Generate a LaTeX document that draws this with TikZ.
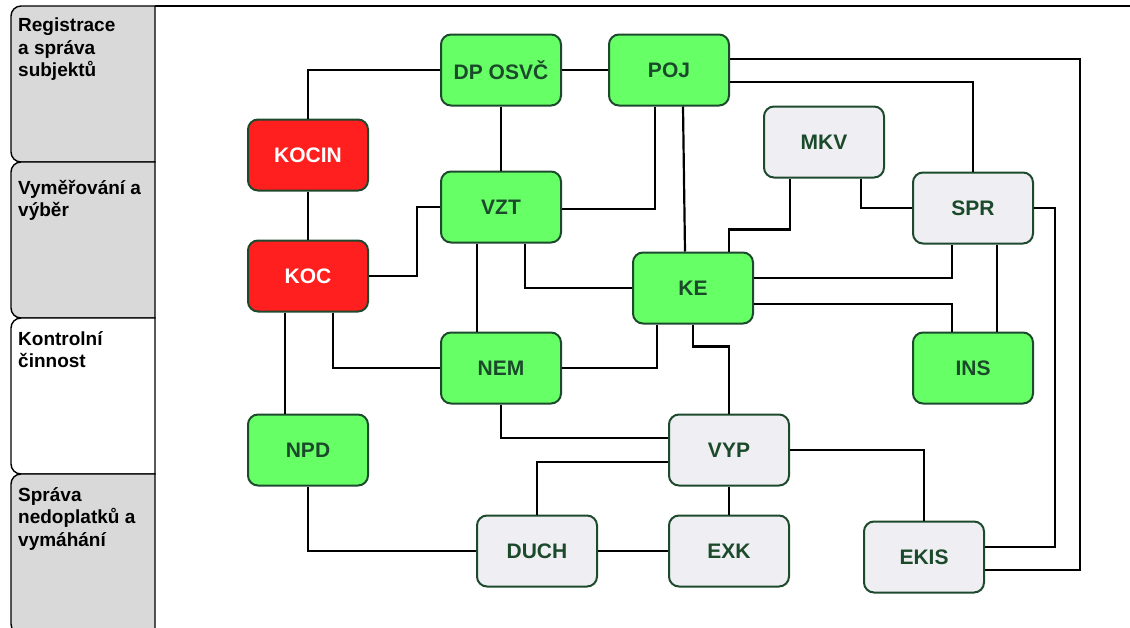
\documentclass[tikz,border=0pt]{standalone}
\usepackage{fontspec}
\setmainfont{Liberation Sans}
\usetikzlibrary{calc}
\definecolor{boxgreen}{HTML}{66FF66}
\definecolor{boxred}{HTML}{FF1F1F}
\definecolor{boxgray}{HTML}{EFEEF3}
\definecolor{lanegray}{HTML}{D9D9D9}
\definecolor{edgegreen}{HTML}{1D4A2D}
\definecolor{textgreen}{HTML}{1B4A2B}
\tikzset{
  sysbox/.style={draw=edgegreen, line width=2pt, rounded corners=10pt,
    minimum width=120pt, minimum height=71pt, inner sep=0pt,
    font=\bfseries\fontsize{21}{24}\selectfont, text=textgreen},
  greenbox/.style={sysbox, fill=boxgreen},
  redbox/.style={sysbox, fill=boxred, text=white},
  graybox/.style={sysbox, fill=boxgray},
  link/.style={line width=2.2pt, black},
  lane/.style={draw=black, line width=1.4pt},
  lanetext/.style={anchor=north west, inner sep=0pt, align=left,
    font=\bfseries\fontsize{19}{22.5}\selectfont, text=black}
}
\begin{document}
\begin{tikzpicture}[x=1pt, y=-1pt]
\useasboundingbox (0,0) rectangle (1130,627);
\clip (0,0) rectangle (1130,627);
\fill[white] (0,0) rectangle (1130,627);

% swimlane tabs on the left
\filldraw[lane, fill=lanegray] (155,6) [rounded corners=10pt] -- (11,6) -- (11,162) [sharp corners] -- (155,162) -- cycle;
\filldraw[lane, fill=lanegray] (155,162) [rounded corners=10pt] -- (11,162) -- (11,318) [sharp corners] -- (155,318) -- cycle;
\filldraw[lane, fill=white] (155,318) [rounded corners=10pt] -- (11,318) -- (11,474) [sharp corners] -- (155,474) -- cycle;
\filldraw[lane, fill=lanegray] (155,474) [rounded corners=10pt] -- (11,474) -- (11,634) [sharp corners] -- (155,634) -- cycle;
\draw[lane] (155,6) -- (1130,6);

\node[lanetext] (l1) at (18,18) {Registrace\\a správa\\subjektů};
\node[lanetext] (l2) at (18,180) {Vyměřování a\\výběr};
\node[lanetext] (l3) at (18,331) {Kontrolní\\činnost};
\node[lanetext] (l4) at (18,487) {Správa\\nedoplatků a\\vymáhání};

% systems
\node[greenbox] (DPOSVC) at (501,70) {DP OSVČ};
\node[greenbox] (POJ) at (669,70) {POJ};
\node[redbox] (KOCIN) at (308,155) {KOCIN};
\node[redbox] (KOC) at (308,276) {KOC};
\node[greenbox] (VZT) at (501,207) {VZT};
\node[graybox] (MKV) at (824,142) {MKV};
\node[graybox] (SPR) at (973,208) {SPR};
\node[greenbox] (KE) at (693,288) {KE};
\node[greenbox] (NEM) at (501,368) {NEM};
\node[greenbox] (INS) at (973,368) {INS};
\node[greenbox] (NPD) at (308,450) {NPD};
\node[graybox] (VYP) at (729,450) {VYP};
\node[graybox] (DUCH) at (537,551) {DUCH};
\node[graybox] (EXK) at (729,551) {EXK};
\node[graybox] (EKIS) at (924,557) {EKIS};

% links
\draw[link] (KOCIN.north) |- (DPOSVC.west);
\draw[link] (DPOSVC.east) -- (POJ.west);
\draw[link] (KOCIN.south) -- (KOC.north);
\draw[link] (DPOSVC.south) -- (VZT.north);
\draw[link] (KOC.east) -- ++(48,0) |- (VZT.west);
\draw[link] ([xshift=-14pt]POJ.south) |- ([yshift=-2pt]VZT.east);
\draw[link] ([xshift=14pt]POJ.south) -- ([xshift=-8pt]KE.north);
\draw[link] ([yshift=11pt]POJ.east) -| (1080,300) |- ([yshift=-13pt]EKIS.east);
\draw[link] ([yshift=-12pt]POJ.east) -| (SPR.north);
\draw[link] (SPR.east) -| (1055,300) |- ([yshift=10pt]EKIS.east);
\draw[link] ([xshift=-34pt]MKV.south) -- ++(0,51) -| ([xshift=36pt]KE.north);
\draw[link] ([xshift=37pt]MKV.south) |- (SPR.west);
\draw[link] ([yshift=10pt]KE.east) -| ([xshift=-21pt]SPR.south);
\draw[link] ([yshift=-16pt]KE.east) -| ([xshift=-21pt]INS.north);
\draw[link] ([xshift=24pt]SPR.south) -- ([xshift=24pt]INS.north);
\draw[link] ([xshift=-24pt]VZT.south) -- ([xshift=-24pt]NEM.north);
\draw[link] ([xshift=24pt]VZT.south) |- (KE.west);
\draw[link] ([xshift=-23pt]KOC.south) -- ([xshift=-23pt]NPD.north);
\draw[link] ([xshift=25pt]KOC.south) |- (NEM.west);
\draw[link] (NEM.east) -| ([xshift=-36pt]KE.south);
\draw[link] (KE.south) -- ++(0,22) -| (VYP.north);
\draw[link] (NEM.south) |- ([yshift=12pt]VYP.west);
\draw[link] ([yshift=-12pt]VYP.west) -| (DUCH.north);
\draw[link] (VYP.south) -- (EXK.north);
\draw[link] (VYP.east) -| (EKIS.north);
\draw[link] (NPD.south) |- (DUCH.west);
\draw[link] (DUCH.east) -- (EXK.west);
\end{tikzpicture}
\end{document}
